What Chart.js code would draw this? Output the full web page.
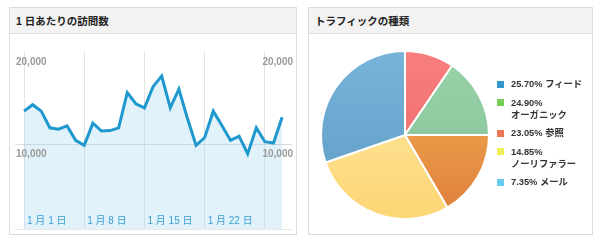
<!DOCTYPE html>
<html><head><meta charset="utf-8">
<script src="https://cdn.jsdelivr.net/npm/chart.js@4/dist/chart.umd.min.js"></script>
<style>
html,body{margin:0;padding:0;background:#fff;width:601px;height:241px;overflow:hidden;}
body{position:relative;font-family:"Liberation Sans",Arial,"Noto Sans CJK JP",sans-serif;}
.panel{position:absolute;border:1px solid #dcdcdc;box-sizing:border-box;background:#fff;}
.hd{height:26px;background:#f3f3f3;border-bottom:1px solid #dcdcdc;box-sizing:border-box;font-weight:bold;font-size:10.5px;line-height:27px;padding-left:6px;color:#222;font-family:"Liberation Sans","Noto Sans CJK JP",sans-serif;}
#p1{left:9px;top:7px;width:288px;height:228px;}
#p2{left:308px;top:7px;width:285px;height:228px;}
#c1{position:absolute;left:0;top:0;}
#c2{position:absolute;left:305px;top:40px;}
#legend{position:absolute;left:497px;top:78px;list-style:none;margin:0;padding:0;font-size:9.3px;font-weight:bold;color:#333;line-height:12px;width:88px;}
#legend li{position:relative;padding-left:14px;margin-bottom:6.5px;}
#legend li .sw{position:absolute;left:0;top:2.5px;width:7px;height:7px;}
#legend li .nm{white-space:nowrap;}
</style></head>
<body>
<div class="panel" id="p1"><div class="hd">1 日あたりの訪問数</div></div>
<div class="panel" id="p2"><div class="hd">トラフィックの種類</div></div>
<canvas id="c1" width="301" height="241"></canvas>
<canvas id="c2" width="200" height="190"></canvas>
<ul id="legend"></ul>
<script>
// ---- data ----
const visits = [13600, 14300, 13600, 11800, 11650, 12000, 10450, 9900, 12300, 11450, 11500, 11800, 15600, 14400, 13950, 16250, 17400, 13950, 16000, 12800, 9900, 10750, 13600, 12050, 10450, 10900, 9000, 11800, 10300, 10150, 12950];
const xTickValues = [0, 7, 14, 21, 28];
const xTickLabels = ['1 月 1 日', '1 月 8 日', '1 月 15 日', '1 月 22 日', ''];
const yTickValues = [10000, 20000];
const pieValues = [9.5, 15.5, 16.6, 28.1, 30.3];
const legendPercents = ['25.70%', '24.90%', '23.05%', '14.85%', '7.35%'];
const legendNames = ['フィード', 'オーガニック', '参照', 'ノーリファラー', 'メール'];

// ---- styles ----
const legendColors = ['#3399cc', '#77cc55', '#ee7755', '#eeee55', '#66ccee'];
const pieTop = ['#f87e7e', '#9ad3aa', '#f2b454', '#fee9a8', '#78b3d8'];
const pieBottom = ['#ec6666', '#80be94', '#e07e3c', '#fdd674', '#5c9cc6'];
const Y_MIN = 800, Y_MAX = 20000;

// legend
const ul = document.getElementById('legend');
legendPercents.forEach((p, i) => {
  const li = document.createElement('li');
  li.innerHTML = '<span class="sw" style="background:' + legendColors[i] + '"></span>' + p + ' <span class="nm">' + legendNames[i] + '</span>';
  ul.appendChild(li);
});

const fmt = v => v.toLocaleString('en-US');
const yAxisCommon = {
  type: 'linear', min: Y_MIN, max: Y_MAX,
  afterBuildTicks: s => { s.ticks = [Y_MIN].concat(yTickValues).map(v => ({value: v})); },
  border: {display: false},
  ticks: {mirror: true, padding: 1, labelOffset: 10, z: 1, color: '#9a9a9a',
    font: {family: '"Liberation Sans", Arial', size: 10, weight: 'bold'},
    callback: v => (v === Y_MIN ? '' : fmt(v))}
};

new Chart(document.getElementById('c1'), {
  type: 'line',
  data: {
    datasets: [{
      data: visits.map((v, i) => ({x: i, y: v})),
      borderColor: '#1f98ce', borderWidth: 3, pointRadius: 0, tension: 0,
      fill: 'start', backgroundColor: 'rgba(160,212,238,0.3)', yAxisID: 'y'
    }]
  },
  options: {
    responsive: false, animation: false,
    layout: {padding: {left: 13, right: 7, top: 52, bottom: 11.5}},
    plugins: {legend: {display: false}, tooltip: {enabled: false}},
    scales: {
      x: {
        type: 'linear', min: -1.05, max: 31.15,
        afterBuildTicks: s => { s.ticks = xTickValues.map(v => ({value: v})); },
        border: {display: false},
        grid: {color: '#e3e3e3', drawTicks: false},
        ticks: {autoSkip: false, maxRotation: 0, minRotation: 0, align: 'start', mirror: true, padding: 0, labelOffset: 3, z: 1,
          color: '#3a9fd0', font: {family: '"Liberation Sans", Arial, "Noto Sans CJK JP"', size: 10, lineHeight: 1.7},
          callback: (v) => xTickLabels[xTickValues.indexOf(v)] || ''}
      },
      y: Object.assign({}, yAxisCommon, {
        position: 'left',
        grid: {drawTicks: false, color: c => c.tick && c.tick.value === 10000 ? '#dcdcdc' : (c.tick && c.tick.value === Y_MIN ? '#e8e8e8' : 'rgba(0,0,0,0)')}
      }),
      y2: Object.assign({}, yAxisCommon, {position: 'right', grid: {display: false, drawTicks: false}})
    }
  }
});

new Chart(document.getElementById('c2'), {
  type: 'pie',
  data: {
    labels: legendNames,
    datasets: [{
      data: pieValues,
      borderColor: '#ffffff', borderWidth: 2,
      backgroundColor: (ctx) => {
        const i = ctx.dataIndex;
        const area = ctx.chart.chartArea;
        if (!area) return pieTop[i];
        const cy = (area.top + area.bottom) / 2;
        const g = ctx.chart.ctx.createLinearGradient(0, cy - 84, 0, cy + 84);
        g.addColorStop(0, pieTop[i]);
        g.addColorStop(1, pieBottom[i]);
        return g;
      }
    }]
  },
  options: {
    responsive: false, animation: false, radius: 84,
    layout: {padding: 0},
    plugins: {legend: {display: false}, tooltip: {enabled: false}}
  }
});
</script>
</body></html>
